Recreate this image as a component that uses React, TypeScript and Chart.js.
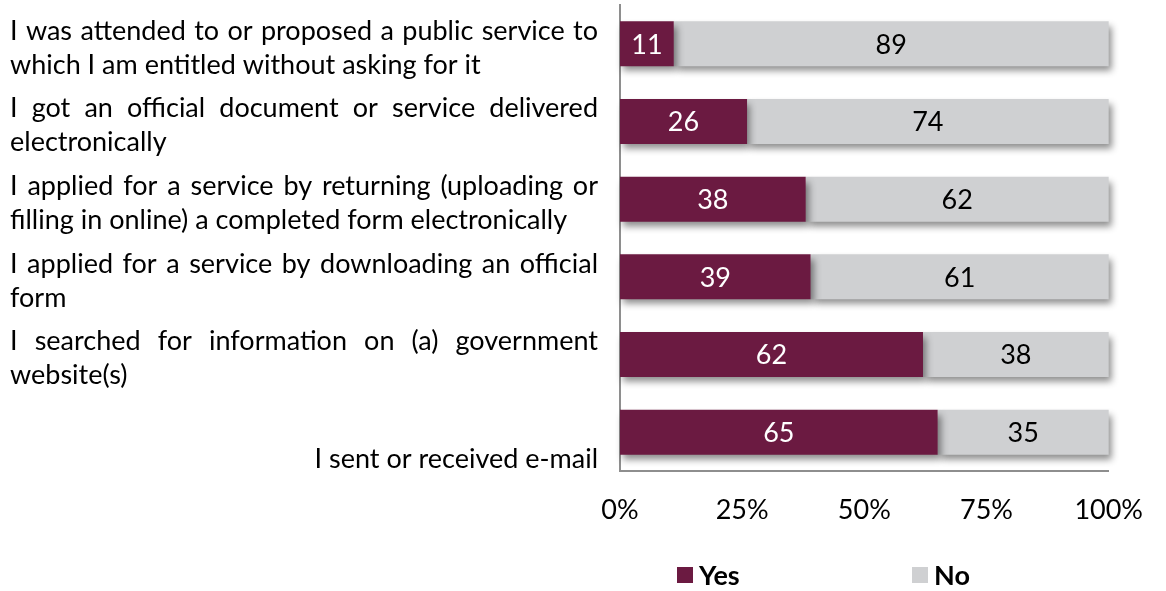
import React, { useEffect, useRef } from 'react';
import { Chart, registerables } from 'chart.js';

Chart.register(...registerables);

// ---- data ----
const categories: string[][] = [
  ['I was attended to or proposed a public service to', 'which I am entitled without asking for it'],
  ['I got an official document or service delivered', 'electronically'],
  ['I applied for a service by returning (uploading or', 'filling in online) a completed form electronically'],
  ['I applied for a service by downloading an official', 'form'],
  ['I searched for information on (a) government', 'website(s)'],
  ['I sent or received e-mail'],
];
const seriesNames = ['Yes', 'No'];
const yesValues = [11, 26, 38, 39, 62, 65];
const noValues = [89, 74, 62, 61, 38, 35];
const xTickValues = [0, 25, 50, 75, 100];

const YES_COLOR = '#6B1A41';
const NO_COLOR = '#CFD0D2';
const AXIS_COLOR = '#8E8E8E';
const FONT = 'Lato, "Open Sans", sans-serif';
const FONT_SIZE = 27;

const shadowPlugin = {
  id: 'barShadow',
  beforeDatasetsDraw(chart: any) {
    const ctx = chart.ctx;
    ctx.save();
    ctx.shadowColor = 'rgba(0,0,0,0.45)';
    ctx.shadowBlur = 7;
    ctx.shadowOffsetX = 3;
    ctx.shadowOffsetY = 5;
  },
  afterDatasetsDraw(chart: any) {
    chart.ctx.restore();
  },
};

const valueLabelPlugin = {
  id: 'valueLabels',
  afterDraw(chart: any) {
    const ctx = chart.ctx;
    ctx.save();
    ctx.font = `${FONT_SIZE}px ${FONT}`;
    ctx.textAlign = 'center';
    ctx.textBaseline = 'middle';
    chart.data.datasets.forEach((ds: any, di: number) => {
      const meta = chart.getDatasetMeta(di);
      meta.data.forEach((bar: any, i: number) => {
        const { x, y, base } = bar.getProps(['x', 'y', 'base'], true);
        ctx.fillStyle = di === 0 ? '#FFFFFF' : '#000000';
        ctx.fillText(String(ds.data[i]), (x + base) / 2, y + 1);
      });
    });
    ctx.restore();
  },
};

const categoryLabelPlugin = {
  id: 'categoryLabels',
  afterDraw(chart: any) {
    const ctx = chart.ctx;
    const yScale = chart.scales.y;
    const left = 10;
    const right = chart.chartArea.left - 22;
    const lh = 34;
    ctx.save();
    ctx.font = `${FONT_SIZE}px ${FONT}`;
    ctx.fillStyle = '#000';
    ctx.textBaseline = 'middle';
    categories.forEach((lines, i) => {
      const c = yScale.getPixelForValue(i) + 4;
      if (lines.length === 1) {
        ctx.textAlign = 'right';
        ctx.fillText(lines[0], right, c + lh / 2 + 6);
        return;
      }
      lines.forEach((line, k) => {
        const ly = c + (k - (lines.length - 1) / 2) * lh;
        ctx.textAlign = 'left';
        if (k === lines.length - 1) {
          ctx.fillText(line, left, ly);
          return;
        }
        const words = line.split(' ');
        const widths = words.map((w) => ctx.measureText(w).width);
        const total = widths.reduce((a, b) => a + b, 0);
        const gap = (right - left - total) / (words.length - 1);
        let x = left;
        words.forEach((w, wi) => {
          ctx.fillText(w, x, ly);
          x += widths[wi] + gap;
        });
      });
    });
    ctx.restore();
  },
};

const legendPlugin = {
  id: 'customLegend',
  afterDraw(chart: any) {
    const ctx = chart.ctx;
    const startX = chart.chartArea.left + 57;
    const spacing = 235;
    const cy = chart.chartArea.bottom + 104;
    const box = 16;
    ctx.save();
    ctx.font = `bold ${FONT_SIZE}px ${FONT}`;
    ctx.textBaseline = 'middle';
    ctx.textAlign = 'left';
    chart.data.datasets.forEach((ds: any, i: number) => {
      const x = startX + i * spacing;
      ctx.fillStyle = ds.backgroundColor;
      ctx.fillRect(x, cy - box / 2, box, box);
      ctx.fillStyle = '#000';
      ctx.fillText(ds.label, x + box + 6, cy + 1);
    });
    ctx.restore();
  },
};

export default function App() {
  const canvasRef = useRef<HTMLCanvasElement | null>(null);

  useEffect(() => {
    document.body.style.margin = '0';
    const canvas = canvasRef.current;
    if (!canvas) return;
    const chart = new Chart(canvas, {
      type: 'bar',
      data: {
        labels: categories.map((c) => c.join(' ')),
        datasets: [
          {
            label: seriesNames[0],
            data: yesValues,
            backgroundColor: YES_COLOR,
            categoryPercentage: 1,
            barPercentage: 0.58,
            clip: false as any,
          },
          {
            label: seriesNames[1],
            data: noValues,
            backgroundColor: NO_COLOR,
            categoryPercentage: 1,
            barPercentage: 0.58,
            clip: false as any,
          },
        ],
      },
      options: {
        indexAxis: 'y',
        animation: false,
        responsive: true,
        maintainAspectRatio: false,
        layout: { padding: { left: 620, right: 50, top: 5, bottom: 0 } },
        plugins: {
          legend: { display: false },
          tooltip: { enabled: false },
        },
        scales: {
          x: {
            stacked: true,
            min: 0,
            max: 100,
            afterBuildTicks: (scale: any) => {
              scale.ticks = xTickValues.map((v) => ({ value: v }));
            },
            afterFit: (scale: any) => {
              scale.height = 120;
            },
            ticks: {
              callback: (v: any) => `${v}%`,
              color: '#000',
              font: { family: FONT, size: FONT_SIZE },
              padding: 23,
              maxRotation: 0,
            },
            grid: { display: false, drawTicks: false },
            border: { display: true, color: AXIS_COLOR, width: 2 },
          },
          y: {
            stacked: true,
            afterFit: (scale: any) => {
              scale.width = 0;
            },
            ticks: { display: false },
            grid: { display: false, drawTicks: false },
            border: { display: true, color: AXIS_COLOR, width: 2 },
          },
        },
      },
      plugins: [shadowPlugin, valueLabelPlugin, categoryLabelPlugin, legendPlugin],
    });
    return () => chart.destroy();
  }, []);

  return (
    <div style={{ width: 1166, height: 591, position: 'relative' }}>
      <canvas ref={canvasRef} />
    </div>
  );
}
